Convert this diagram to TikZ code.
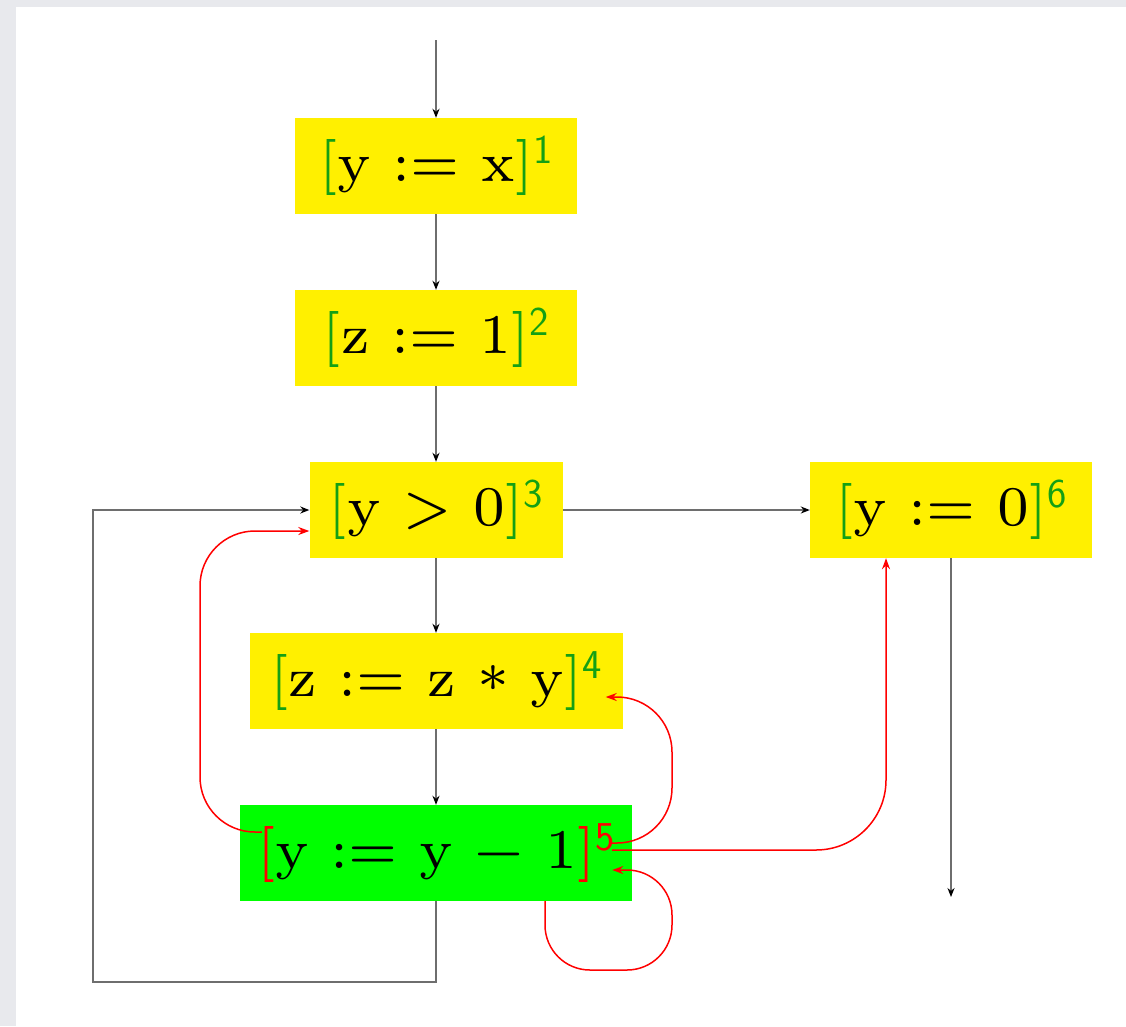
\documentclass[tikz,border=0pt]{standalone}
\usepackage{fontspec}
\usetikzlibrary{arrows.meta}
\newfontfamily\blockfont{lmroman7-regular.otf}
\definecolor{panelgray}{RGB}{232,233,237}
\definecolor{blockyellow}{RGB}{255,240,0}
\definecolor{blockgreen}{RGB}{0,255,0}
\definecolor{labgreen}{RGB}{20,160,20}
\definecolor{edgegray}{RGB}{110,110,110}
\newcommand{\lab}[3]{{\color{#1}[}#2{\color{#1}]\raisebox{18pt}{\fontsize{41}{41}\sffamily #3}}}

\begin{document}
\begin{tikzpicture}[x=1pt,y=-1pt,
		block/.style={fill=blockyellow,inner sep=0pt,minimum height=96pt,
			font=\fontsize{56}{60}\blockfont},
		flow/.style={edgegray,line width=2pt,-{Stealth[length=9pt,width=7pt,color=black]}},
		info/.style={red,line width=1.5pt,rounded corners=55pt,-{Stealth[length=11pt,width=8pt]}}]
		\useasboundingbox (0,0) rectangle (1126,1026);
		\fill [panelgray] (0,0) rectangle (1126,1026);
		\fill [white] (16,7) rectangle (1126,1026);
		\node [block,minimum width=282pt] (b1) at (436,166) {\lab{labgreen}{y := x}{1}};
		\node [block,minimum width=282pt] (b2) at (436,338) {\lab{labgreen}{z := 1}{2}};
		\node [block,minimum width=253pt] (b3) at (436,510) {\lab{labgreen}{y > 0}{3}};
		\node [block,minimum width=373pt] (b4) at (436,681) {\lab{labgreen}{z := z \raisebox{-11pt}{*} y}{4}};
		\node [block,fill=blockgreen,minimum width=392pt] (b5) at (436,853) {\lab{red}{y := y − 1}{5}};
		\node [block,minimum width=282pt] (b6) at (951,510) {\lab{labgreen}{y := 0}{6}};
		\coordinate (entry) at (436,40);
		\coordinate (back) at (93,982);
		\coordinate (exit) at (951,897);
		\draw [flow] (entry) -- (b1);
		\draw [flow] (b1) -- (b2);
		\draw [flow] (b2) -- (b3);
		\draw [flow] (b3) -- (b4);
		\draw [flow] (b4) -- (b5);
		\draw [flow] (b3) -- (b6);
		\draw [flow] (b5.south) |- (back) |- (b3.west);
		\draw [flow] (b6.south) -- (exit);
		\draw [info] ([xshift=22pt,yshift=21pt]b5.west) -- (200,832) -- (200,531) -- ([yshift=-21pt]b3.west);
		\draw [info] ([xshift=-22pt,yshift=10pt]b5.east) -- (672,843) -- (672,697) -- ([xshift=-17pt,yshift=-16pt]b4.east);
		\draw [info,rounded corners=70pt] ([xshift=-20pt,yshift=3pt]b5.east) -- (886,850) -- ([xshift=-65pt]b6.south);
		\draw [info,rounded corners=45pt] ([xshift=109pt]b5.south) -- (545,970) -- (672,970) -- (672,870) -- ([xshift=-20pt,yshift=-17pt]b5.east);
	\end{tikzpicture}
\end{document}
